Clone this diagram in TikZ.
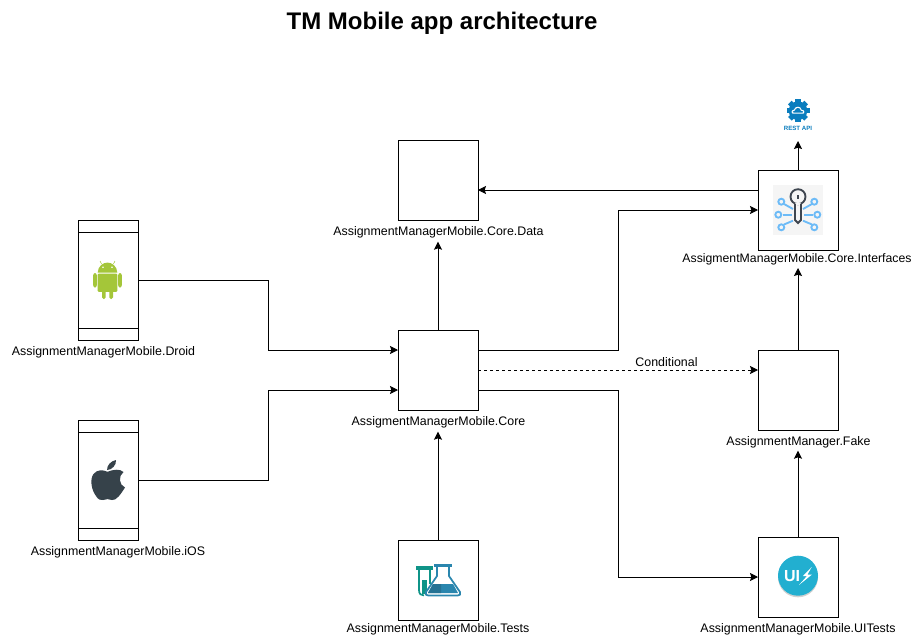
\documentclass[tikz,border=0pt]{standalone}
\usepackage{fontspec}
\setmainfont{Liberation Sans}
\usetikzlibrary{arrows.meta,calc}
\definecolor{droidgreen}{HTML}{A4C639}
\definecolor{applegray}{HTML}{36424A}
\definecolor{tealflask}{HTML}{0F9488}
\definecolor{blueflask}{HTML}{2A86AE}
\definecolor{uiblue}{HTML}{22AFD0}
\definecolor{keyblue}{HTML}{6DBBF7}
\definecolor{keydark}{HTML}{3F4650}
\definecolor{restblue}{HTML}{0A7DBE}
\tikzset{
  x=0.75pt,y=-0.75pt,
  module/.style={draw=black,line width=0.75pt,fill=white,minimum width=60pt,minimum height=60pt,inner sep=0pt,outer sep=0pt},
  phone/.style={draw=black,line width=0.75pt,fill=white,minimum width=45pt,minimum height=90pt,inner sep=0pt,outer sep=0pt},
  caption/.style={font=\fontsize{9.3}{11}\selectfont,text=black,inner sep=0pt},
  link/.style={draw=black,line width=0.75pt,-{Stealth[length=6pt,width=6pt,inset=1pt]}},
}
\begin{document}
\begin{tikzpicture}
\useasboundingbox (0,0) rectangle (911,639);
\fill[white] (0,0) rectangle (911,639);
\node[font=\bfseries\fontsize{18}{22}\selectfont,inner sep=0pt] (title) at (442,23) {TM Mobile app architecture};

% boxes
\node[module] (data) at (438,180) {};
\node[module] (core) at (438,370) {};
\node[module] (ifaces) at (798,210) {};
\node[module] (fake) at (798,390) {};
\node[module] (tests) at (438,580) {};
\node[module] (uitests) at (798,577) {};
\node[phone] (droid) at (108,280) {};
\node[phone] (ios) at (108,480) {};
\draw[line width=0.75pt] ($(droid.north west)+(0,12)$) -- ($(droid.north east)+(0,12)$);
\draw[line width=0.75pt] ($(droid.south west)+(0,-12)$) -- ($(droid.south east)+(0,-12)$);
\draw[line width=0.75pt] ($(ios.north west)+(0,12)$) -- ($(ios.north east)+(0,12)$);
\draw[line width=0.75pt] ($(ios.south west)+(0,-12)$) -- ($(ios.south east)+(0,-12)$);

% captions
\node[caption] (cdata) at (438.5,232.7) {AssignmentManagerMobile.Core.Data};
\node[caption] (ccore) at (438.5,422.7) {AssigmentManagerMobile.Core};
\node[caption,font=\fontsize{9.2}{11}\selectfont] (cifaces) at (797,259.7) {AssigmentManagerMobile.Core.Interfaces};
\node[caption] (cfake) at (798.5,442.7) {AssignmentManager.Fake};
\node[caption] (ctests) at (438,629.7) {AssignmentManagerMobile.Tests};
\node[caption] (cuitests) at (798,629.7) {AssignmentManagerMobile.UITests};
\node[caption] (cdroid) at (103.5,352.7) {AssignmentManagerMobile.Droid};
\node[caption] (cios) at (118,552.7) {AssignmentManagerMobile.iOS};

% rest api icon
\begin{scope}[shift={(798,110.7)}]
  \foreach \a in {0,45,...,315}
    \fill[restblue,rotate=\a] (-2.6,-11.5) rectangle (2.6,0);
  \fill[restblue] (0,0) circle[radius=9.3];
  \fill[white] (-5,3) .. controls (-7,3) and (-7,-1) .. (-4,-1) .. controls (-3,-5) and (3,-5) .. (3.5,-1) .. controls (7,-1) and (7,3) .. (5,3) -- cycle;
  \fill[restblue] (-4.5,1.8) .. controls (-5.5,1.8) and (-5.5,-0.2) .. (-3.2,0) .. controls (-2.5,-3.6) and (2.5,-3.6) .. (2.8,0) .. controls (5.5,-0.2) and (5.5,1.8) .. (4.5,1.8) -- cycle;
\end{scope}
\node[font=\bfseries\fontsize{4.6}{5}\selectfont,text=restblue,inner sep=0pt] (restlabel) at (798,128) {REST API};

% connectors
\coordinate (coreW1) at ($(core.north west)+(0,20)$);
\coordinate (coreW2) at ($(core.north west)+(0,60)$);
\coordinate (coreE1) at ($(core.north east)+(0,20)$);
\coordinate (coreE2) at ($(core.north east)+(0,40)$);
\coordinate (coreE3) at ($(core.north east)+(0,60)$);
\coordinate (ifacesW1) at ($(ifaces.north west)+(0,20)$);
\coordinate (ifacesW2) at ($(ifaces.north west)+(0,40)$);
\coordinate (dataE) at ($(data.north east)+(0,50)$);
\coordinate (fakeW) at ($(fake.north west)+(0,20)$);
\coordinate (dataIn) at (438,241.7);
\coordinate (coreIn) at (438,431.7);
\coordinate (ifacesIn) at (798,268);
\coordinate (fakeIn) at (798,450.7);
\coordinate (restIn) at (798,141);
\draw[link] (droid.east) -- (268,280) -- (268,350) -- (coreW1);
\draw[link] (ios.east) -- (268,480) -- (268,390) -- (coreW2);
\draw[link] (core.north) -- (dataIn);
\draw[link] (tests.north) -- (coreIn);
\draw[link] (coreE1) -- (618,350) -- (618,210) -- (ifacesW2);
\draw[link,dash pattern=on 2.25pt off 2.25pt] (coreE2) -- (fakeW);
\node[caption] (cond) at (666.5,362) {Conditional};
\draw[link] (coreE3) -- (618,390) -- (618,577) -- (uitests.west);
\draw[link] (ifacesW1) -- (dataE);
\draw[link] (ifaces.north) -- (restIn);
\draw[link] (fake.north) -- (ifacesIn);
\draw[link] (uitests.north) -- (fakeIn);

% android icon
\begin{scope}[droidgreen]
  \fill (97.7,272.6) .. controls (98,266) and (103,262.6) .. (107.5,262.6) .. controls (112,262.6) and (117,266) .. (117.3,272.6) -- cycle;
  \fill[rounded corners=0.8] (97.7,273.6) rectangle (117.3,291.8);
  \fill[rounded corners=1.6] (93.2,273) rectangle (96.8,287.5);
  \fill[rounded corners=1.6] (118.2,273) rectangle (121.8,287.5);
  \fill[rounded corners=1.2] (102,288) rectangle (105.6,299);
  \fill[rounded corners=1.2] (109.4,288) rectangle (113,299);
  \draw[line width=0.4pt] (101.5,263.8) -- (100,261);
  \draw[line width=0.4pt] (113.5,263.8) -- (115,261);
  \fill[white] (103,267.2) circle[radius=0.8] (112,267.2) circle[radius=0.8];
\end{scope}

% apple icon
\begin{scope}[applegray]
  \fill (107.5,471.8) .. controls (103,469.5) and (97,469.5) .. (93.5,474)
     .. controls (89.5,479.5) and (91.5,490) .. (96,496)
     .. controls (98,499.5) and (101,500.8) .. (103,500)
     .. controls (106,498.8) and (109,498.8) .. (112,500)
     .. controls (116,501) and (121,494) .. (125,487.5)
     .. controls (119,485) and (118,476) .. (123.5,472)
     .. controls (120,468.5) and (113,469.5) .. (107.5,471.8) -- cycle;
  \fill (107,470) .. controls (107,465) and (111,461) .. (116,460) .. controls (116.5,465) and (112,470) .. (107,470) -- cycle;
\end{scope}

% tests icon
\begin{scope}
  \fill[tealflask] (416,566) rectangle (433,569.5);
  \draw[tealflask,line width=1.3pt] (419,569) -- (419,590) .. controls (419,594) and (421,595.5) .. (424,595.5);
  \draw[tealflask,line width=1.3pt] (430,569) -- (430,584);
  \fill[tealflask] (422,580) rectangle (427,594);
  \fill[blueflask] (434,564) rectangle (452,567);
  \draw[blueflask,line width=1.3pt,line join=round] (437,566) -- (437,576) -- (426,592) .. controls (425,594.5) and (426,595.5) .. (428.5,595.5) -- (457.5,595.5) .. controls (460,595.5) and (461,594.5) .. (460,592) -- (449,576) -- (449,566);
  \fill[blueflask] (433,584) -- (453,584) -- (458,593) -- (428,593) -- cycle;
  \fill[blueflask!85!black] (433,584) -- (441,584) -- (441,593) -- (428,593) -- cycle;
\end{scope}

% ui tests icon
\fill[black!18] (798,577.3) circle[radius=20];
\fill[uiblue] (798,575.7) circle[radius=20];
\node[font=\bfseries\fontsize{12}{14}\selectfont,text=white,inner sep=0pt] (uitext) at (792,576.5) {UI};
\fill[white] (811.7,567) -- (803,576) -- (807,576) -- (799,585) -- (812,574.5) -- (807.5,574.5) -- cycle;

% interfaces icon
\fill[black!4] (773,185) rectangle (823,235);
\begin{scope}[keyblue,line width=1.4pt]
  \draw (783,214.7) -- (791.7,214.7);
  \draw (804.3,214.7) -- (813,214.7);
  \draw (784,204) -- (793,209);
  \draw (812,204) -- (803,209);
  \draw (793,220.7) -- (784,224.5);
  \draw (803,220.7) -- (812,224.5);
  \draw (778.3,214.7) circle[radius=3];
  \draw (817.3,214.7) circle[radius=3];
  \draw (781.3,201.7) circle[radius=3];
  \draw (814.3,201.7) circle[radius=3];
  \draw (781.3,227.3) circle[radius=3];
  \draw (814.3,227.3) circle[radius=3];
\end{scope}
\begin{scope}[keydark,line width=1.4pt]
  \draw (798,196.7) circle[radius=7.5];
  \draw[fill=black!4,draw=none] (795,203) rectangle (801,205);
  \draw (795,203.5) -- (795,220) -- (798,223) -- (801,220) -- (801,203.5);
  \draw (798,195) -- (798,198.5);
\end{scope}
\end{tikzpicture}
\end{document}
